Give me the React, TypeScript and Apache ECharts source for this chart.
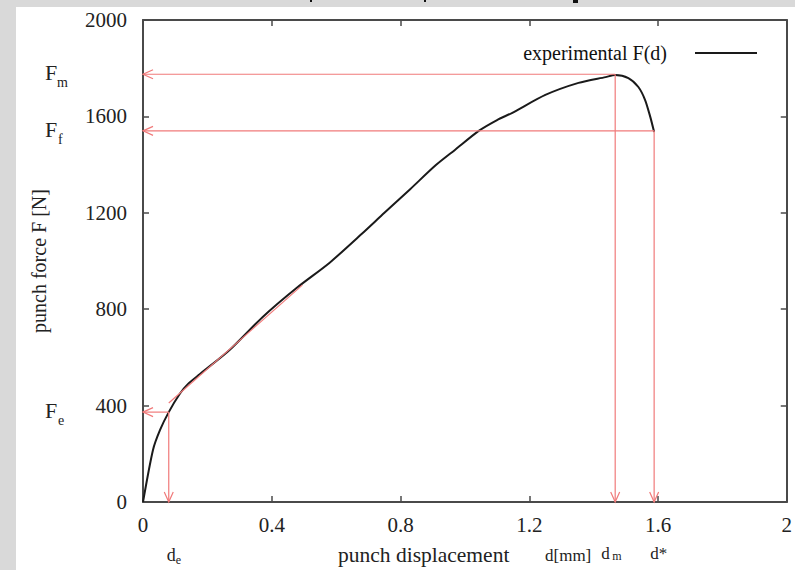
import React, { useEffect, useRef } from "react";
import * as echarts from "echarts";

// experimental punch force curve F(d)
const dVals = [0, 0.031, 0.053, 0.08, 0.115, 0.14, 0.176, 0.269, 0.372, 0.477, 0.579, 0.68, 0.75, 0.83, 0.91, 0.97, 1.043, 1.1, 1.146, 1.25, 1.353, 1.437, 1.467, 1.508, 1.539, 1.56, 1.576, 1.588];
const fVals = [0, 216, 299, 373, 450, 490, 530, 631, 768, 888, 992, 1113, 1200, 1298, 1398, 1462, 1540, 1585, 1614, 1689, 1739, 1763, 1772, 1759, 1722, 1668, 1598, 1535];

// characteristic points
const dE = 0.08;
const fE = 373;
const dM = 1.467;
const fM = 1775;
const dStar = 1.588;
const fF = 1540;
// linear (tangent) segment
const tangentFrom = [0.08, 411];
const tangentTo = [0.495, 900];

const xTickLabels = ["0", "0.4", "0.8", "1.2", "1.6", "2"];
const yTickLabels = ["0", "400", "800", "1200", "1600", "2000"];

const SERIF = "'Liberation Serif', 'DejaVu Serif', serif";
const RED = "#f07a7a";
const FRAME = "#4a4a4a";

export default function App() {
  const ref = useRef<HTMLDivElement>(null);

  useEffect(() => {
    const chart = echarts.init(ref.current!, null, { renderer: "svg" });

    const curve = dVals.map((d, i) => [d, fVals[i]]);
    const annotations = [
      [dM, fM, 0, fM, 1],
      [dM, fM, dM, 0, 1],
      [dStar, fF, 0, fF, 1],
      [dStar, fF, dStar, 0, 1],
      [dE, fE, 0, fE, 1],
      [dE, fE, dE, 0, 1],
      [tangentFrom[0], tangentFrom[1], tangentTo[0], tangentTo[1], 0],
    ];

    const axisCommon = () => ({
      min: 0,
      axisLine: { show: true, onZero: false, lineStyle: { color: FRAME, width: 2 } },
      axisTick: { show: true, inside: true, length: 6, lineStyle: { color: FRAME, width: 1.5 } },
      splitLine: { show: false },
    });

    const option: any = {
      animation: false,
      backgroundColor: "#d9d9d9",
      grid: { left: 143, top: 20, right: 6, bottom: 68, containLabel: false },
      legend: {
        data: [{ name: "experimental F(d)", icon: "rect" }],
        right: 33,
        top: 38,
        align: "right",
        itemWidth: 62,
        itemHeight: 2,
        textStyle: { fontFamily: SERIF, fontSize: 20, color: "#111", padding: [0, 23, 0, 0] },
      },
      xAxis: [
        {
          ...axisCommon(),
          type: "value",
          max: 2,
          interval: 0.4,
          position: "bottom",
          axisLabel: {
            fontFamily: SERIF,
            fontSize: 21,
            color: "#222",
            margin: 12,
            formatter: (v: number) => xTickLabels[Math.round(v / 0.4)] ?? String(v),
          },
        },
        {
          ...axisCommon(),
          type: "value",
          max: 2,
          interval: 0.4,
          position: "top",
          axisLabel: { show: false },
        },
      ],
      yAxis: [
        {
          ...axisCommon(),
          type: "value",
          max: 2000,
          interval: 400,
          position: "left",
          name: "punch force F [N]",
          nameLocation: "middle",
          nameGap: 94,
          nameTextStyle: { fontFamily: SERIF, fontSize: 20, color: "#222" },
          axisLabel: {
            fontFamily: SERIF,
            fontSize: 21,
            color: "#222",
            margin: 16,
            formatter: (v: number) => yTickLabels[Math.round(v / 400)] ?? String(v),
          },
        },
        {
          ...axisCommon(),
          type: "value",
          max: 2000,
          interval: 400,
          position: "right",
          axisLabel: { show: false },
        },
      ],
      series: [
        {
          name: "experimental F(d)",
          type: "line",
          data: curve,
          xAxisIndex: 0,
          yAxisIndex: 0,
          symbol: "none",
          smooth: 0.25,
          lineStyle: { color: "#1a1a1a", width: 2 },
          itemStyle: { color: "#1a1a1a" },
          z: 2,
        },
        {
          type: "custom",
          xAxisIndex: 0,
          yAxisIndex: 0,
          data: annotations,
          encode: { x: [0, 2], y: [1, 3] },
          z: 3,
          silent: true,
          renderItem: (params: any, api: any) => {
            const p1 = api.coord([api.value(0), api.value(1)]);
            const p2 = api.coord([api.value(2), api.value(3)]);
            const children: any[] = [
              {
                type: "line",
                shape: { x1: p1[0], y1: p1[1], x2: p2[0], y2: p2[1] },
                style: { stroke: RED, lineWidth: 1.2 },
              },
            ];
            if (api.value(4)) {
              const ang = Math.atan2(p2[1] - p1[1], p2[0] - p1[0]);
              const len = 11;
              const spread = 0.42;
              const a1 = ang + Math.PI - spread;
              const a2 = ang + Math.PI + spread;
              children.push({
                type: "polyline",
                shape: {
                  points: [
                    [p2[0] + len * Math.cos(a1), p2[1] + len * Math.sin(a1)],
                    [p2[0], p2[1]],
                    [p2[0] + len * Math.cos(a2), p2[1] + len * Math.sin(a2)],
                  ],
                },
                style: { stroke: RED, lineWidth: 1.2, fill: "none" },
              });
            }
            return { type: "group", children };
          },
        },
      ],
    };

    chart.setOption(option);

    const px = (x: number, y: number) => chart.convertToPixel({ seriesIndex: 0 }, [x, y]) as number[];
    const yM = px(0, fM)[1];
    const yF = px(0, fF)[1];
    const yE = px(0, fE)[1];
    const xE = px(dE, 0)[0];
    const xM = px(dM, 0)[0];
    const xS = px(dStar, 0)[0];

    const txt = (text: string, x: number, y: number, size: number, align = "left") => ({
      type: "text",
      x,
      y,
      silent: true,
      style: {
        text,
        fontFamily: SERIF,
        fontSize: size,
        fill: "#222",
        align,
        verticalAlign: "middle",
      },
    });

    chart.setOption({
      graphic: [
        { type: "rect", z: -10, silent: true, shape: { x: 16, y: 7, width: 779, height: 563 }, style: { fill: "#ffffff" } },
        { type: "rect", silent: true, shape: { x: 310, y: 0, width: 2, height: 2 }, style: { fill: "#111" } },
        { type: "rect", silent: true, shape: { x: 424, y: 0, width: 2, height: 2 }, style: { fill: "#111" } },
        { type: "rect", silent: true, shape: { x: 573, y: 0, width: 5, height: 3 }, style: { fill: "#111" } },
        // F labels on the left
        txt("F", 45, yM - 2, 22),
        txt("m", 57, yM + 8, 14),
        txt("F", 45, yF - 1, 22),
        txt("f", 58, yF + 9, 14),
        txt("F", 45, yE - 2, 22),
        txt("e", 58, yE + 8, 14),
        // d labels under the axis
        txt("d", xE - 2, 555, 18),
        txt("e", xE + 7, 560, 12),
        txt("d", xM - 14, 553, 17),
        txt("m", xM - 3, 556, 12),
        txt("d*", xS - 4, 553, 17),
        txt("punch displacement", 338, 555, 21.5),
        txt("d[mm]", 545, 555, 17),
      ],
    });

    return () => chart.dispose();
  }, []);

  return <div ref={ref} style={{ position: "fixed", left: 0, top: 0, width: 795, height: 570 }} />;
}
